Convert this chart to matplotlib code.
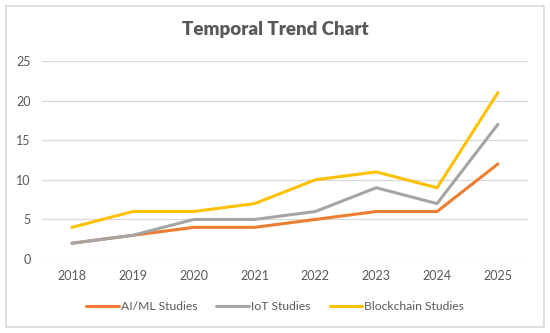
import matplotlib.pyplot as plt
from matplotlib.patches import Rectangle

years = ["2018", "2019", "2020", "2021", "2022", "2023", "2024", "2025"]
ai_ml = [2, 3, 4, 4, 5, 6, 6, 12]
iot = [2, 3, 5, 5, 6, 9, 7, 17]
blockchain = [4, 6, 6, 7, 10, 11, 9, 21]

plt.rcParams["font.family"] = ["Lato", "DejaVu Sans"]

fig = plt.figure(figsize=(5.5, 3.33), dpi=100)
ax = fig.add_axes([0.0756, 0.222, 0.885, 0.595])

x = range(len(years))
ax.plot(x, ai_ml, color="#ED7D31", lw=2.2, label="AI/ML Studies", solid_capstyle="round")
ax.plot(x, iot, color="#A5A5A5", lw=2.2, label="IoT Studies", solid_capstyle="round")
ax.plot(x, blockchain, color="#FFC000", lw=2.2, label="Blockchain Studies", solid_capstyle="round")

ax.set_xlim(-0.5, len(years) - 0.5)
ax.set_ylim(0, 25)
ax.set_yticks([0, 5, 10, 15, 20, 25])
ax.set_xticks(list(x))
ax.set_xticklabels(years)
ax.grid(axis="y", color="#D9D9D9", lw=0.9)
ax.set_axisbelow(True)
for s in ax.spines.values():
    s.set_visible(False)
ax.tick_params(length=0, colors="#595959", labelsize=9, pad=8)

fig.text(0.5, 0.91, "Temporal Trend Chart", ha="center", va="center",
         fontsize=13.5, fontweight="heavy", color="#595959")

fig.legend(loc="center", bbox_to_anchor=(0.5, 0.08), ncol=3, frameon=False,
           fontsize=8.7, labelcolor="#595959", handlelength=2.7, handletextpad=0.15,
           columnspacing=1.6)

# chart border
fig.patches.append(Rectangle((6 / 550, 6 / 333), 538 / 550, 321 / 333,
                             transform=fig.transFigure, fill=False,
                             edgecolor="#D9D9D9", lw=1.2))

fig.savefig("out.png", dpi=100)
